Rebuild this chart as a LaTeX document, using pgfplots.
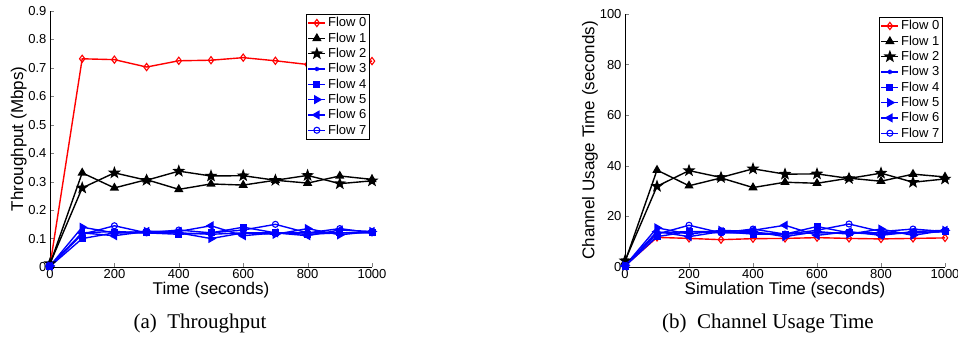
\documentclass[border=0pt]{standalone}
\usepackage{pgfplots}
\pgfplotsset{compat=1.18}
\usepackage{fontspec}
\setmainfont{Liberation Sans}
\newfontfamily\capfont{Liberation Serif}
\pgfdeclareplotmark{fstar}{%
 \pgfpathmoveto{\pgfpointpolar{90}{1.35*\pgfplotmarksize}}%
 \pgfpathlineto{\pgfpointpolar{126}{0.55*\pgfplotmarksize}}%
 \pgfpathlineto{\pgfpointpolar{162}{1.35*\pgfplotmarksize}}%
 \pgfpathlineto{\pgfpointpolar{198}{0.55*\pgfplotmarksize}}%
 \pgfpathlineto{\pgfpointpolar{234}{1.35*\pgfplotmarksize}}%
 \pgfpathlineto{\pgfpointpolar{270}{0.55*\pgfplotmarksize}}%
 \pgfpathlineto{\pgfpointpolar{306}{1.35*\pgfplotmarksize}}%
 \pgfpathlineto{\pgfpointpolar{342}{0.55*\pgfplotmarksize}}%
 \pgfpathlineto{\pgfpointpolar{18}{1.35*\pgfplotmarksize}}%
 \pgfpathlineto{\pgfpointpolar{54}{0.55*\pgfplotmarksize}}%
 \pgfpathclose\pgfusepathqfillstroke}
\definecolor{mblue}{RGB}{0,0,255}
\definecolor{mred}{RGB}{255,0,0}
\pgfplotsset{
 mystyle/.style={
  scale only axis,
  axis lines*=left,
  tick align=inside,
  xmin=0, xmax=1000, xtick={0,200,...,1000},
  tick label style={font=\fontsize{13}{15}\selectfont},
  xticklabel style={yshift=1.5pt},
  label style={font=\fontsize{17}{19}\selectfont},
  /pgf/number format/assume math mode=true,
  /pgf/number format/1000 sep={},
  legend style={font=\fontsize{13}{15}\selectfont, draw=black, line width=1pt,
    at={(0.995,0.99)}, anchor=north east, row sep=0.4pt, inner sep=1.5pt},
  legend cell align=left,
  legend image post style={line width=1.4pt},
  every axis plot/.append style={line width=1.4pt, mark size=3pt},
  xlabel shift=-3pt,
 },
 f0/.style={color=mred, mark=diamond, mark options={solid, line width=1.1pt}, mark size=3.6pt},
 f1/.style={color=black, mark=triangle*, mark size=4pt},
 f2/.style={color=black, mark=fstar, mark size=3.5pt},
 f3/.style={color=mblue, mark=asterisk, mark size=2.2pt},
 f4/.style={color=mblue, mark=square*, mark size=2.8pt},
 f5/.style={color=mblue, mark=triangle*, mark size=4pt, mark options={rotate=-90}},
 f6/.style={color=mblue, mark=triangle*, mark size=4pt, mark options={rotate=90}},
 f7/.style={color=mblue, mark=o, mark size=3pt, mark options={line width=1.1pt}},
}
\begin{document}
\begin{tikzpicture}
\path[use as bounding box] (0pt,0pt) rectangle (958pt,340pt);
\begin{axis}[mystyle, at={(50pt,73pt)}, anchor=south west,
  width=322pt, height=256pt,
  ymin=0, ymax=0.9, ytick={0,0.1,...,0.9},
  yticklabel style={/pgf/number format/fixed, /pgf/number format/precision=1},
  xlabel={Time (seconds)}, ylabel={Throughput (Mbps)}, ylabel shift=-5pt]
\addplot[f0] coordinates {(0,0.005) (100,0.732) (200,0.729) (300,0.703) (400,0.725) (500,0.727) (600,0.736) (700,0.725) (800,0.712) (900,0.716) (1000,0.724)};
\addplot[f1] coordinates {(0,0.01) (100,0.331) (200,0.278) (300,0.307) (400,0.273) (500,0.292) (600,0.288) (700,0.305) (800,0.295) (900,0.320) (1000,0.308)};
\addplot[f2] coordinates {(0,0.012) (100,0.278) (200,0.331) (300,0.305) (400,0.337) (500,0.320) (600,0.321) (700,0.305) (800,0.322) (900,0.293) (1000,0.303)};
\addplot[f3] coordinates {(0,0.003) (100,0.12) (200,0.125) (300,0.12) (400,0.12) (500,0.115) (600,0.12) (700,0.12) (800,0.12) (900,0.12) (1000,0.122)};
\addplot[f4] coordinates {(0,0.002) (100,0.10) (200,0.12) (300,0.12) (400,0.115) (500,0.12) (600,0.14) (700,0.12) (800,0.115) (900,0.12) (1000,0.12)};
\addplot[f5] coordinates {(0,0.004) (100,0.14) (200,0.12) (300,0.125) (400,0.12) (500,0.10) (600,0.12) (700,0.115) (800,0.135) (900,0.113) (1000,0.125)};
\addplot[f6] coordinates {(0,0.003) (100,0.12) (200,0.11) (300,0.125) (400,0.125) (500,0.145) (600,0.11) (700,0.12) (800,0.11) (900,0.13) (1000,0.125)};
\addplot[f7] coordinates {(0,0.004) (100,0.115) (200,0.145) (300,0.12) (400,0.13) (500,0.12) (600,0.13) (700,0.15) (800,0.12) (900,0.135) (1000,0.12)};
\legend{Flow 0,Flow 1,Flow 2,Flow 3,Flow 4,Flow 5,Flow 6,Flow 7}
\end{axis}
\begin{axis}[mystyle, at={(625pt,73pt)}, anchor=south west,
  width=320pt, height=253pt,
  ymin=0, ymax=100, ytick={0,20,...,100},
  xlabel={Simulation Time (seconds)}, ylabel={Channel Usage Time (seconds)}, ylabel shift=-5pt]
\addplot[f0] coordinates {(0,0.5) (100,11.7) (200,11.3) (300,10.8) (400,11.2) (500,11.3) (600,11.6) (700,11.3) (800,11.1) (900,11.3) (1000,11.5)};
\addplot[f1] coordinates {(0,2) (100,38.3) (200,32.1) (300,35.2) (400,31.4) (500,33.5) (600,33.1) (700,35.1) (800,33.9) (900,36.7) (1000,35.6)};
\addplot[f2] coordinates {(0,2.5) (100,31.9) (200,38.1) (300,35.4) (400,38.8) (500,36.7) (600,36.8) (700,35.0) (800,37.1) (900,33.5) (1000,34.8)};
\addplot[f3] coordinates {(0,0.5) (100,13.5) (200,14) (300,13.5) (400,13.5) (500,13) (600,13.5) (700,13.5) (800,13.5) (900,13.5) (1000,14)};
\addplot[f4] coordinates {(0,0.3) (100,12) (200,14) (300,14) (400,13) (500,13) (600,16) (700,13.5) (800,13) (900,13.5) (1000,14)};
\addplot[f5] coordinates {(0,0.5) (100,15.5) (200,13) (300,14.5) (400,14) (500,12) (600,14) (700,13) (800,15) (900,12.5) (1000,14.5)};
\addplot[f6] coordinates {(0,0.4) (100,14) (200,12) (300,14) (400,14.5) (500,16.5) (600,12.5) (700,14) (800,12.5) (900,14) (1000,14.5)};
\addplot[f7] coordinates {(0,0.5) (100,13) (200,16.5) (300,13.5) (400,15) (500,13) (600,14.5) (700,17) (800,14) (900,15) (1000,14)};
\legend{Flow 0,Flow 1,Flow 2,Flow 3,Flow 4,Flow 5,Flow 6,Flow 7}
\end{axis}
\node[font=\capfont\fontsize{21}{24}\selectfont, anchor=base] at (200pt,12pt) {(a)\enspace Throughput};
\node[font=\capfont\fontsize{21}{24}\selectfont, anchor=base] at (768pt,12pt) {(b)\enspace Channel Usage Time};
\end{tikzpicture}
\end{document}
